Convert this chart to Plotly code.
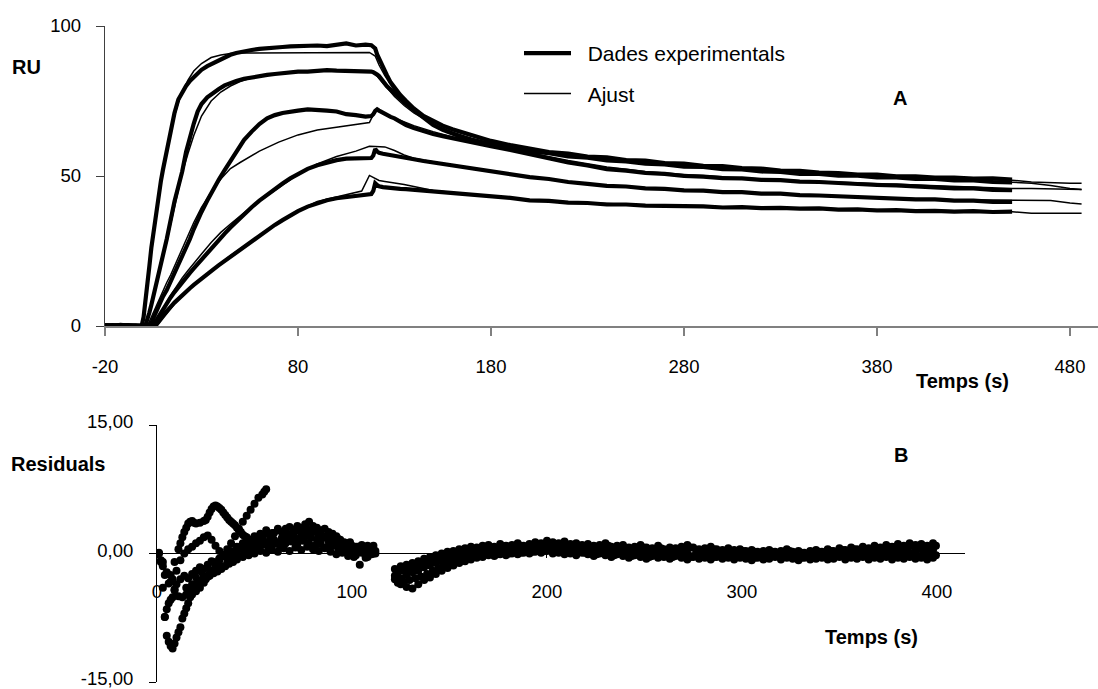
import plotly.graph_objects as go

FONT = "Liberation Sans, Arial, sans-serif"

# ---------------- Panel A : sensorgrams ----------------
T_EXP = [-20, -16, -12, -8, -4, -1,
         0, 1, 2, 3, 4, 5, 6, 7, 8, 9, 10,
         12, 14, 16, 18, 20, 22, 24, 26, 28, 30,
         33, 36, 39, 42, 45, 48,
         52, 56, 60, 64, 68, 72, 76, 80,
         85, 90, 95, 100, 105, 110, 115,
         118, 119, 120, 121, 122,
         124, 126, 128, 130,
         133, 136, 140,
         145, 150, 155, 160, 165, 170, 175, 180,
         190, 200, 210, 220, 230, 240, 250, 260, 270, 280, 290, 300, 310, 320,
         330, 340, 350, 360, 370, 380, 390, 400, 410, 420, 430, 440, 450]

EXP_1 = [0.3, 0.0, 0.4, 0.1, 0.2, 0.0,
         3, 8, 14, 20, 26, 31, 36, 40.5, 44.5, 48.5, 52,
         58.5, 65, 71, 75.5, 78, 80, 81.7, 83.1, 84.4, 85.4,
         86.6, 87.6, 88.6, 89.5, 90.4, 91.0,
         91.6, 92.0, 92.4, 92.7, 92.7, 93.0, 93.2, 93.3,
         93.2, 93.5, 93.3, 93.6, 94.2, 93.5, 93.8,
         93.6, 93.2, 92.5, 90.5, 89.0,
         86.0, 83.7, 81.2, 79.3,
         77.0, 75.0, 72.5,
         70.0, 68.3, 66.8, 65.6, 64.6, 63.6, 62.7, 61.7,
         60.3, 59.3, 58.0, 57.5, 56.5, 56.2, 55.3, 55.1, 54.3, 54.1, 53.4, 53.3,
         52.6, 52.5, 51.8, 51.7, 51.1, 51.0, 50.5, 50.5, 49.9, 49.9, 49.5, 49.5, 49.1, 49.2, 48.8]

EXP_2 = [0.2, 0.0, 0.3, 0.0, 0.1, 0.0,
         0.0, 0.3, 2, 4.5, 7, 10, 12, 15, 18, 21, 23.5,
         29, 35.5, 41.5, 46.5, 51.5, 58, 63.5, 67.5, 71.5, 74,
         76.2, 77.8, 79.0, 80.2, 81.0, 81.7,
         82.4, 82.9, 83.3, 83.7, 84.0, 84.3, 84.5, 84.8,
         84.8, 85.0, 85.3, 85.1, 85.0, 85.2, 84.9,
         84.8, 84.6, 84.3, 83.8, 83.3,
         81.5, 80.0, 78.8, 77.5,
         75.5, 74.0, 72.0,
         69.3, 67.0, 65.4, 64.0, 62.9, 62.0, 61.2, 60.5,
         59.4, 58.2, 57.6, 56.5, 56.1, 55.2, 54.9, 54.1, 53.9, 53.1, 53.0, 52.3,
         52.2, 51.5, 51.4, 50.7, 50.7, 50.1, 50.1, 49.5, 49.5, 49.0, 49.0, 48.5, 48.5, 48.0, 47.9]

EXP_3 = [0.1, 0.3, 0.0, 0.2, 0.0, 0.1,
         0.0, 0.0, 0.2, 0.5, 1.0, 2.5, 4.0, 5.5, 7.0, 8.5, 9.8,
         12.0, 14.8, 17.4, 20.0, 22.8, 25.8, 29.0, 32.3, 35.3, 38.0,
         41.8, 45.5, 48.8, 52.0, 55.2, 58.3,
         62.0, 64.8, 67.3, 69.2, 70.3, 71.0, 71.5, 71.8,
         72.2, 72.1, 71.8, 71.5, 70.6, 70.3, 69.8,
         70.0, 70.6, 71.7, 72.2, 71.8,
         71.0, 70.3, 69.7, 69.2,
         68.0, 67.0, 66.0,
         64.9, 64.0, 63.3, 62.6, 61.8, 61.1, 60.5, 59.9,
         58.7, 57.3, 56.1, 54.5, 53.5, 52.3, 51.8, 51.0, 50.7, 50.0, 49.8, 49.3,
         49.2, 48.7, 48.6, 48.1, 48.0, 47.6, 47.5, 47.0, 46.9, 46.5, 46.4, 45.9, 45.9, 45.4, 45.3]

EXP_4 = [0.0, 0.2, 0.1, 0.3, 0.0, 0.1,
         0.0, 0.0, 0.0, 0.2, 0.4, 0.6, 1.2, 2.3, 3.4, 4.5, 5.6,
         7.6, 9.5, 11.3, 13.0, 14.6, 16.2, 17.7, 19.2, 20.7, 22.2,
         24.5, 26.7, 28.8, 30.8, 32.8, 34.7,
         37.2, 39.6, 41.8, 43.8, 45.7, 47.5, 49.2, 50.8,
         52.4, 53.6, 54.6, 55.3, 55.8, 55.9, 55.8,
         56.0, 56.8, 59.0, 58.2, 57.7,
         57.4, 57.2, 57.0, 56.9,
         56.4, 56.0, 55.6,
         55.0, 54.5, 54.0, 53.5, 53.0, 52.5, 52.0, 51.5,
         50.5, 49.6, 49.0, 48.0, 47.4, 46.7, 46.5, 45.9, 45.7, 45.2, 45.1, 44.6,
         44.6, 44.1, 44.1, 43.6, 43.5, 43.2, 43.1, 42.7, 42.6, 42.2, 42.2, 41.8, 41.8, 41.4, 41.4]

EXP_5 = [0.2, 0.0, 0.1, 0.0, 0.2, 0.0,
         0.0, 0.0, 0.0, 0.0, 0.1, 0.2, 0.4, 1.0, 1.8, 2.8, 3.6,
         5.0, 6.4, 7.8, 9.1, 10.3, 11.5, 12.6, 13.7, 14.8, 15.8,
         17.3, 18.8, 20.3, 21.7, 23.1, 24.5,
         26.4, 28.3, 30.2, 32.0, 33.7, 35.3, 36.9, 38.3,
         39.8, 41.0, 41.9, 42.6, 43.0, 43.3, 43.6,
         44.0, 45.0, 47.6, 47.0, 46.6,
         46.3, 46.1, 46.0, 45.9,
         45.7, 45.6, 45.4,
         45.1, 44.9, 44.6, 44.4, 44.1, 43.8, 43.5, 43.2,
         42.7, 41.9, 41.7, 41.1, 41.0, 40.5, 40.5, 40.1, 40.1, 39.8, 39.9, 39.5,
         39.6, 39.3, 39.4, 39.1, 39.2, 38.8, 38.9, 38.5, 38.6, 38.3, 38.4, 38.1, 38.3, 38.0, 38.1]

T_FIT = [-20, -1, 0, 1, 2, 3, 4, 5, 6, 7, 8,
         10, 12, 14, 16, 18, 20,
         23, 26, 30, 35, 40, 45, 50, 55, 60,
         70, 80, 90, 100, 110, 113, 117, 120,
         122, 125, 130, 135, 140, 150, 160, 170, 180,
         200, 220, 240, 260, 280, 300, 320, 340, 360, 380, 400, 420, 440,
         450, 460, 470, 480, 486]

FIT_1 = [0, 0, 3, 8, 14, 20, 26, 31, 36, 40.5, 44.5,
         52, 58.5, 64.5, 70, 74.5, 78,
         82, 85, 87.5, 89.5, 90.3, 90.8, 91.0, 91.0, 91.1,
         91.2, 91.2, 91.2, 91.2, 91.2, 91.2, 91.2, 90.0,
         87.0, 83.5, 78.5, 75.0, 72.0, 68.0, 65.2, 63.2, 61.6,
         59.0, 57.3, 56.0, 55.0, 54.0, 53.1, 52.3, 51.6, 50.9, 50.3, 49.8, 49.3, 48.9,
         48.6, 48.0, 47.7, 47.6, 47.6]

FIT_2 = [0, 0, 0, 0, 2.5, 5, 7.5, 10, 12.5, 15, 17.5,
         22.5, 28, 34, 40, 45.5, 51,
         57.5, 63.5, 70, 75, 78, 80, 81.5, 82.5, 83.2,
         84.2, 84.7, 85.0, 85.1, 85.1, 85.1, 85.1, 84.0,
         82.5, 80.0, 76.5, 73.5, 71.0, 67.3, 64.6, 62.6, 61.0,
         58.6, 56.9, 55.5, 54.4, 53.4, 52.5, 51.7, 51.0, 50.3, 49.7, 49.1, 48.6, 48.2,
         47.9, 47.6, 46.8, 45.8, 45.5]

FIT_3 = [0, 0, 0, 0, 0, 1.5, 3, 4.5, 6, 7.5, 9,
         12, 14.5, 17, 20, 23, 26,
         30.5, 34.5, 39.5, 44.5, 49, 52.5, 54.5, 56.5, 58.3,
         61.3, 63.7, 65.3, 66.2, 67.0, 67.4, 67.8, 71.7,
         71.5, 70.6, 69.3, 68.0, 66.8, 64.8, 63.0, 61.5, 60.2,
         57.8, 55.2, 53.0, 51.5, 50.5, 49.7, 49.0, 48.4, 47.9, 47.3, 46.8, 46.4, 46.0,
         45.8, 45.8, 45.7, 45.6, 45.5]

FIT_4 = [0, 0, 0, 0, 0, 0, 0, 0, 1.2, 2.4, 3.5,
         5.8, 8, 10.2, 12.2, 14.2, 16,
         18.5, 21, 24, 27.8, 31.2, 34, 36.8, 39.3, 41.6,
         46, 50.5, 54, 56.5, 58.3, 58.9, 59.9, 59.8,
         59.8, 59.7, 58.5, 57.0, 55.9, 54.6, 53.5, 52.5, 51.5,
         49.7, 48.1, 46.8, 46.0, 45.3, 44.7, 44.2, 43.7, 43.3, 42.8, 42.4, 42.1, 41.9,
         41.8, 41.8, 41.8, 41.0, 40.7]

FIT_5 = [0, 0, 0, 0, 0, 0, 0, 0, 0, 0, 0.8,
         2.5, 4.2, 5.8, 7.3, 8.7, 10,
         12, 13.8, 16, 18.6, 21.2, 23.5, 25.7, 28, 30.2,
         34.5, 38.5, 41.5, 43, 44.3, 45.0, 50.2, 49.2,
         48.5, 48.2, 47.8, 47.2, 46.5, 45.2, 44.5, 43.9, 43.3,
         42.1, 41.3, 40.7, 40.3, 40.0, 39.7, 39.5, 39.3, 39.1, 38.8, 38.6, 38.4, 38.2,
         38.1, 37.6, 37.6, 37.6, 37.6]

A_XTICKS = [-20, 80, 180, 280, 380, 480]
A_XTICKTEXT = ["-20", "80", "180", "280", "380", "480"]
A_YTICKS = [0, 50, 100]

# ---------------- Panel B : residuals ----------------
T_S1 = [3, 4, 5, 6, 7, 8, 9, 10, 11, 12, 13, 14, 15, 16, 17, 18,
        20, 22, 24, 26, 28, 30, 32, 34, 36, 38, 40, 42, 44, 46, 48, 50, 52, 54, 55, 56]
RES_1 = [-4.0, -7.4, -9.6, -10.3, -10.8, -11.1, -10.5, -9.8, -9.2, -8.6,
         -7.6, -7.0, -6.4, -5.8, -5.1, -4.8,
         -4.4, -4.0, -3.4, -2.7, -2.0, -1.4, -0.8, -0.2, 0.5, 1.2,
         2.0, 2.9, 3.7, 4.4, 5.1, 5.8, 6.5, 6.9, 7.2, 7.5]

T_S2 = [7, 9, 11, 12, 13, 14, 15, 16, 17, 18, 19, 20, 22, 24,
        25, 26, 27, 28, 29, 30, 31, 32, 33, 34, 35, 36, 37, 38, 39, 40, 41, 42, 43, 44, 45, 46,
        48, 50, 52, 54, 56, 58, 60, 62, 64, 66, 68, 70, 72, 74, 76, 78, 80,
        82, 84, 86, 88, 90, 92, 94, 96, 98, 100, 102, 104, 106, 108, 110, 112]
RES_2 = [-2.5, -1.0, 0.5, 1.2, 1.9, 2.5, 3.0, 3.5, 3.7, 3.8, 3.6, 3.5, 3.6, 3.8,
         3.9, 4.3, 4.8, 5.2, 5.5, 5.6, 5.5, 5.3, 5.1, 4.8, 4.5, 4.2, 3.9, 3.7, 3.5, 3.3, 3.0, 2.7, 2.5, 2.2, 2.0, 1.9,
         1.6, 1.5, 1.7, 2.0, 2.3, 2.1, 2.4, 2.7, 2.5, 2.9, 3.1, 2.8, 3.2, 3.0, 3.4, 3.7, 3.2,
         3.0, 2.7, 2.9, 2.5, 2.3, 2.0, 1.6, 1.3, 1.2, 0.9, 0.5, 0.3, 0.6, 0.9, 0.4, 0.0]

T_S3 = [2, 4, 6, 8, 10, 12, 14, 16, 18, 20, 22, 24, 26, 28, 30, 32, 34, 36, 38, 40,
        43, 46, 49, 52, 55, 58, 61, 64, 67, 70, 73, 76, 79, 82, 85, 88, 91, 94, 97, 100,
        103, 106, 109, 112]
RES_3 = [-1.0, -2.5, -3.5, -3.0, -2.0, -0.8, 0.0, 0.5, 0.8, 1.2,
         1.5, 1.9, 2.1, 1.6, 0.9, 0.3, -0.3, -0.5, -0.2, 0.2,
         0.6, 0.9, 1.2, 1.0, 1.4, 1.6, 1.3, 1.8, 1.5, 2.0,
         1.7, 2.2, 1.9, 1.6, 1.8, 1.4, 1.2, 0.9, 1.1, 0.6,
         0.8, 0.4, 0.7, 0.3]

T_S4 = [1, 3, 5, 7, 9, 11, 13, 15, 17, 19, 21, 23, 25, 27, 29, 31, 33, 35, 37, 39, 41,
        44, 47, 50, 53, 56, 59, 62, 65, 68, 71, 74, 77, 80, 83, 86, 89, 92, 95, 98, 101,
        104, 107, 110]
RES_4 = [0.1, -1.0, -2.2, -3.3, -4.3, -5.0, -5.1, -4.8, -4.4, -4.0,
         -3.6, -3.3, -3.0, -2.6, -2.3, -2.1, -1.8, -1.5, -1.2, -1.0,
         -0.7, -0.4, -0.2, 0.0, 0.3, 0.1, 0.4, 0.2, 0.6, 0.3,
         0.7, 0.4, 0.8, 0.5, 0.3, 0.6, 0.2, -0.1, 0.1, -0.3,
         -0.4, -1.3, -0.5, -0.1]

T_S5 = [1, 2, 3, 4, 5, 6, 7, 8, 9, 10,
        12, 14, 16, 18, 20, 22, 24, 26, 28, 30, 32, 34, 36, 38, 40, 42,
        45, 48, 51, 54, 57, 60, 63, 66, 69, 72, 75, 78, 81, 84, 87, 90, 93, 96, 99,
        102, 105, 108, 111]
RES_5 = [0.0, -0.8, -1.5, -7.4, -6.5, -5.8, -5.4, -5.1, -4.2, -3.6,
         -3.0, -2.6, -2.9, -2.4, -2.0, -1.6, -1.8, -1.3, -0.9, -1.1,
         -0.6, -0.3, -0.5, 0.0, 0.3, 0.5, 0.8, 1.1, 0.9, 1.3,
         1.1, 1.6, 1.3, 1.8, 2.1, 1.7, 2.3, 2.0, 2.6, 2.2,
         1.9, 1.5, 1.7, 1.1, 1.3, 0.8, 1.0, 0.5, 0.9]

T_S6 = [20, 23, 26, 29, 32, 35, 38, 41, 44, 47, 50, 53, 56, 59, 62, 65,
        68, 71, 74, 77, 80, 83, 86, 89, 92, 95, 98, 101, 104, 107, 110]
RES_6 = [-2.8, -2.2, -1.6, -1.0, -0.6, -0.1, 0.3, 0.8, 1.2, 1.6,
         2.0, 2.3, 2.7, 2.4, 2.9, 2.6, 2.2, 2.6, 2.4, 2.8,
         2.5, 2.2, 2.0, 1.7, 1.4, 1.1, 0.8, 0.6, 0.3, 0.5, 0.2]

T_S7 = [15, 18, 21, 24, 27, 30, 33, 36, 39, 42, 45, 48, 51, 54, 57, 60, 63,
        66, 69, 72, 75, 78, 81, 84, 87, 90, 93, 96, 99, 102, 105, 108, 111]
RES_7 = [-4.0, -3.6, -3.2, -2.7, -2.4, -2.0, -1.5, -1.1, -0.6, -0.3,
         0.1, 0.4, 0.7, 1.0, 0.8, 1.1, 0.9, 1.2, 1.4, 1.1,
         1.5, 1.2, 0.9, 1.1, 0.7, 0.9, 0.5, 0.2, 0.4, -0.2,
         0.1, -0.4, 0.0]

# dissociation phase: two interleaved sampling grids (every 3 s)
T_DISS = list(range(122, 400, 3))
T_DISS_B = [t + 1.5 for t in T_DISS]
RES_D1 = [-1.8, -1.5, -1.3, -1.1, -0.9, -0.6, -0.4, -0.2, 0.0, 0.2,
          0.3, 0.5, 0.6, 0.8, 0.7, 0.9, 1.0, 0.8, 1.1, 0.9,
          1.0, 1.2, 0.9, 1.1, 1.3, 1.2, 1.5, 1.3, 1.2, 1.4,
          1.1, 1.2, 1.0, 1.1, 0.9, 1.0, 1.2, 0.8, 0.9, 1.0,
          0.7, 0.8, 1.0, 0.7, 0.6, 0.9, 0.5, 0.7, 0.6, 0.8,
          1.0, 0.7, 0.5, 0.6, 0.8, 0.5, 0.4, 0.6, 0.4, 0.5,
          0.3, 0.4, 0.2, 0.3, 0.4, 0.2, 0.3, 0.5, 0.2, 0.3,
          0.1, 0.3, 0.4, 0.2, 0.5, 0.3, 0.6, 0.4, 0.7, 0.5,
          0.8, 0.6, 0.9, 0.7, 1.0, 0.8, 1.1, 0.9, 1.2, 1.0,
          1.1, 0.9, 1.2]
RES_D2 = [-2.6, -2.9, -2.5, -2.2, -2.0, -1.6, -1.4, -1.1, -0.9, -0.6,
          -0.5, -0.3, -0.1, 0.0, 0.2, 0.1, 0.3, 0.2, 0.4, 0.3,
          0.5, 0.4, 0.6, 0.5, 0.7, 0.6, 0.8, 0.6, 0.5, 0.7,
          0.4, 0.6, 0.3, 0.5, 0.2, 0.4, 0.3, 0.1, 0.4, 0.2,
          0.0, 0.3, 0.1, -0.1, 0.2, 0.0, -0.2, 0.1, -0.1, 0.2,
          0.0, -0.3, 0.1, -0.2, 0.0, -0.1, -0.3, 0.0, -0.2, -0.1,
          -0.3, -0.1, -0.2, -0.4, -0.1, -0.2, 0.0, -0.3, -0.1, -0.2,
          -0.4, -0.1, -0.2, 0.0, -0.3, -0.1, -0.2, 0.1, -0.2, 0.0,
          -0.1, 0.2, -0.1, 0.1, 0.3, 0.0, 0.2, 0.4, 0.1, 0.3,
          0.5, 0.2, 0.4]
RES_D3 = [-3.0, -3.6, -3.9, -4.1, -3.6, -3.1, -2.8, -2.4, -2.0, -1.7,
          -1.4, -1.1, -0.9, -0.7, -0.5, -0.4, -0.2, -0.3, -0.1, -0.2,
          0.0, -0.1, 0.1, 0.0, 0.2, 0.1, 0.3, 0.0, 0.1, -0.1,
          0.0, -0.2, 0.1, -0.1, -0.3, 0.0, -0.2, -0.4, -0.1, -0.3,
          -0.5, -0.2, -0.4, -0.6, -0.3, -0.5, -0.4, -0.6, -0.3, -0.5,
          -0.7, -0.4, -0.6, -0.5, -0.7, -0.4, -0.6, -0.5, -0.7, -0.5,
          -0.6, -0.8, -0.5, -0.7, -0.6, -0.4, -0.7, -0.5, -0.6, -0.8,
          -0.5, -0.7, -0.6, -0.5, -0.7, -0.6, -0.4, -0.7, -0.5, -0.6,
          -0.4, -0.7, -0.5, -0.6, -0.4, -0.7, -0.5, -0.6, -0.4, -0.6,
          -0.5, -0.7, -0.5]
RES_D4 = [-2.2, -2.0, -1.8, -1.5, -1.3, -1.0, -0.8, -0.6, -0.3, -0.1,
          0.1, 0.2, 0.4, 0.5, 0.6, 0.5, 0.7, 0.6, 0.8, 0.7,
          0.8, 0.9, 0.7, 1.0, 0.9, 1.1, 1.2, 1.0, 0.9, 1.0,
          0.8, 0.9, 0.7, 0.8, 0.6, 0.7, 0.9, 0.6, 0.7, 0.6,
          0.4, 0.6, 0.7, 0.4, 0.3, 0.6, 0.3, 0.5, 0.3, 0.5,
          0.7, 0.4, 0.2, 0.4, 0.5, 0.3, 0.1, 0.3, 0.2, 0.3,
          0.1, 0.2, 0.0, 0.1, 0.2, 0.0, 0.1, 0.3, 0.0, 0.1,
          -0.1, 0.1, 0.2, 0.0, 0.3, 0.1, 0.4, 0.2, 0.5, 0.3,
          0.5, 0.4, 0.6, 0.4, 0.7, 0.5, 0.8, 0.6, 0.9, 0.7,
          0.8, 0.6, 0.9]
RES_D5 = [-3.4, -3.3, -3.1, -2.9, -2.7, -2.4, -2.0, -1.7, -1.4, -1.2,
          -0.9, -0.7, -0.5, -0.4, -0.2, -0.1, 0.0, -0.1, 0.1, 0.0,
          0.2, 0.1, 0.3, 0.2, 0.4, 0.3, 0.5, 0.3, 0.2, 0.4,
          0.2, 0.3, 0.1, 0.2, -0.1, 0.1, 0.0, -0.2, 0.1, -0.1,
          -0.3, 0.0, -0.2, -0.4, -0.1, -0.3, -0.2, -0.4, -0.1, -0.3,
          -0.4, -0.2, -0.3, -0.2, -0.4, -0.1, -0.3, -0.2, -0.4, -0.3,
          -0.4, -0.5, -0.3, -0.5, -0.3, -0.2, -0.4, -0.2, -0.3, -0.5,
          -0.2, -0.4, -0.3, -0.1, -0.4, -0.3, -0.1, -0.4, -0.2, -0.3,
          -0.1, -0.4, -0.2, -0.3, -0.1, -0.4, -0.2, -0.3, -0.1, -0.3,
          -0.2, -0.4, -0.2]

B_XTICKS = [0, 100, 200, 300, 400]
B_YTICKS = [-15, 0, 15]
B_YTICKTEXT = ["-15,00", "0,00", "15,00"]

# ---------------- figure ----------------
W, H = 1098, 689


def px(x):
    return x / W


def py(y):
    return 1 - y / H


fig = go.Figure()

for i, ys in enumerate([EXP_1, EXP_2, EXP_3, EXP_4, EXP_5]):
    fig.add_trace(go.Scatter(
        x=T_EXP, y=ys, mode="lines", xaxis="x", yaxis="y",
        line=dict(color="black", width=4.2),
        name="\u00a0\u00a0Dades experimentals", legendgroup="exp", showlegend=(i == 0),
        hoverinfo="skip"))

for i, ys in enumerate([FIT_1, FIT_2, FIT_3, FIT_4, FIT_5]):
    fig.add_trace(go.Scatter(
        x=T_FIT, y=ys, mode="lines", xaxis="x", yaxis="y",
        line=dict(color="black", width=1.5),
        name="\u00a0\u00a0Ajust", legendgroup="fit", showlegend=(i == 0),
        hoverinfo="skip"))

for ts, rs in [(T_S1, RES_1), (T_S2, RES_2), (T_S3, RES_3), (T_S4, RES_4), (T_S5, RES_5),
               (T_S6, RES_6), (T_S7, RES_7),
               (T_DISS, RES_D1), (T_DISS, RES_D2), (T_DISS, RES_D3),
               (T_DISS_B, RES_D4), (T_DISS_B, RES_D5)]:
    fig.add_trace(go.Scatter(
        x=ts, y=rs, mode="markers", xaxis="x2", yaxis="y2",
        marker=dict(color="black", size=8, line=dict(width=0)),
        showlegend=False, hoverinfo="skip"))

tickfont = dict(family=FONT, size=18.5, color="black")
labfont = dict(family=FONT, size=20, color="black")

fig.update_layout(
    width=W, height=H,
    margin=dict(l=0, r=0, t=0, b=0),
    paper_bgcolor="white", plot_bgcolor="white",
    font=dict(family=FONT, color="black"),
    showlegend=True,
    legend=dict(x=px(519), y=py(33), xanchor="left", yanchor="top",
                bgcolor="rgba(0,0,0,0)", borderwidth=0,
                font=dict(family=FONT, size=21, color="black"),
                itemwidth=47, tracegroupgap=10, itemclick=False),
    xaxis=dict(domain=[px(105), 1.0], range=[-20, 494.5], anchor="y",
               tickvals=A_XTICKS, ticktext=A_XTICKTEXT,
               ticks="outside", ticklen=8, tickwidth=1.5,
               tickcolor="#808080", showline=True, linecolor="#808080", linewidth=1.5,
               showgrid=False, zeroline=False, tickfont=tickfont,
               ticklabelstandoff=15, automargin=False, ticklabeloverflow="allow"),
    # panel A y axis: line and ticks
    yaxis=dict(domain=[py(326), py(26)], range=[0, 100], anchor="x",
               tickvals=A_YTICKS, showticklabels=False,
               ticks="outside", ticklen=8, tickwidth=1.2,
               tickcolor="#404040", showline=True, linecolor="#404040", linewidth=1.2,
               showgrid=False, zeroline=False, automargin=False),
    # panel A y axis: tick labels (same scale, set a little further left)
    yaxis3=dict(overlaying="y", anchor="free", position=px(81), side="left",
                range=[0, 100], tickvals=A_YTICKS, ticks="",
                showline=False, showgrid=False, zeroline=False,
                tickfont=tickfont, automargin=False, ticklabeloverflow="allow"),
    xaxis2=dict(domain=[px(157), px(965)], range=[0, 414.4], anchor="free",
                position=py(553),
                tickvals=B_XTICKS, ticks="outside", ticklen=4, tickwidth=1,
                tickcolor="black", showline=True, linecolor="black", linewidth=1,
                showgrid=False, zeroline=False, tickfont=tickfont,
                ticklabelstandoff=18, automargin=False, ticklabeloverflow="allow"),
    yaxis2=dict(domain=[py(682), py(425)], range=[-15, 15], anchor="x2",
                tickvals=B_YTICKS, ticktext=B_YTICKTEXT,
                ticks="outside", ticklen=7, tickwidth=1, tickcolor="black",
                showline=True, linecolor="black", linewidth=1,
                showgrid=False, zeroline=False, tickfont=tickfont,
                ticklabelstandoff=12, ticklabelshift=-3,
                automargin=False, ticklabeloverflow="allow"),
)

# invisible trace so that the label axis is drawn
fig.add_trace(go.Scatter(x=[None], y=[None], xaxis="x", yaxis="y3",
                         showlegend=False, hoverinfo="skip"))

annots = [
    ("<b>RU</b>", 26, 67),
    ("<b>Temps (s)</b>", 962, 381),
    ("<b>A</b>", 900, 98),
    ("<b>Residuals</b>", 58, 464),
    ("<b>B</b>", 901, 455),
    ("<b>Temps (s)</b>", 871, 637),
]
for text, x, y in annots:
    fig.add_annotation(text=text, x=px(x), y=py(y), xref="paper", yref="paper",
                       xanchor="center", yanchor="middle", showarrow=False,
                       font=labfont)

fig.write_html("out.html")
